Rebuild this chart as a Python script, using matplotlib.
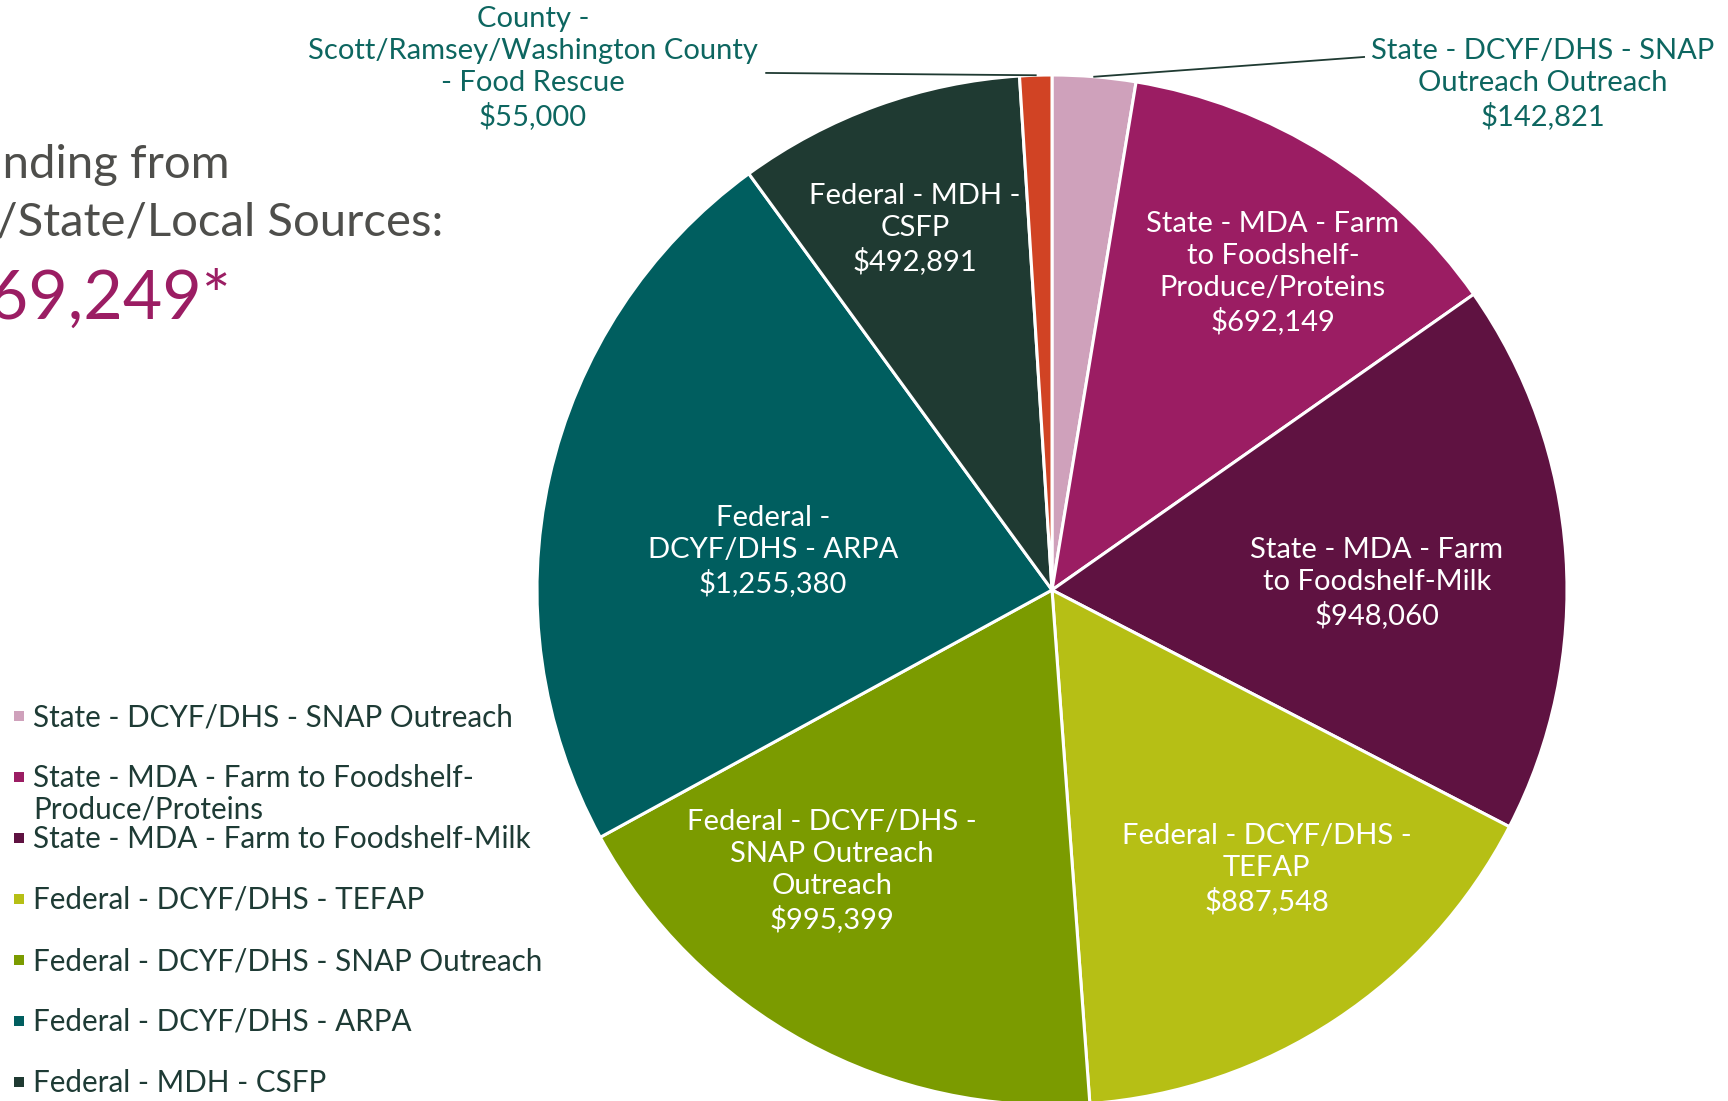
import matplotlib
matplotlib.use('Agg')
import matplotlib.pyplot as plt
import numpy as np

plt.rcParams['font.family'] = ['Lato', 'DejaVu Sans']

# dados
fontes = ['State - DCYF/DHS - SNAP Outreach',
          'State - MDA - Farm to Foodshelf-\nProduce/Proteins',
          'State - MDA - Farm to Foodshelf-Milk',
          'Federal - DCYF/DHS - TEFAP',
          'Federal - DCYF/DHS - SNAP Outreach',
          'Federal - DCYF/DHS - ARPA',
          'Federal - MDH - CSFP',
          'County - Scott/Ramsey/Washington County - Food Rescue']
valores = [142821, 692149, 948060, 887548, 995399, 1255380, 492891, 55000]
rotulos = ['State - DCYF/DHS - SNAP\nOutreach Outreach',
           'State - MDA - Farm\nto Foodshelf-\nProduce/Proteins',
           'State - MDA - Farm\nto Foodshelf-Milk',
           'Federal - DCYF/DHS -\nTEFAP',
           'Federal - DCYF/DHS -\nSNAP Outreach\nOutreach',
           'Federal -\nDCYF/DHS - ARPA',
           'Federal - MDH -\nCSFP',
           'County -\nScott/Ramsey/Washington County\n- Food Rescue']
cores = ['#CFA1BB', '#9B1D63', '#5F1241', '#B6BF15',
         '#7B9B00', '#005E5F', '#1F3A32', '#D14324']
total_texto = '$5,469,249*'

W, H = 1728, 1101
fig = plt.figure(figsize=(W / 100, H / 100), dpi=100)

# centro e raio da pizza em pixels
cx, cy, r = 1052, 590, 515
ax = fig.add_axes([(cx - r) / W, 1 - (cy + r) / H, 2 * r / W, 2 * r / H])
fatias, _ = ax.pie(valores, colors=cores, startangle=90, counterclock=False,
                   wedgeprops=dict(edgecolor='white', linewidth=2.2))
ax.set_xlim(-1, 1)
ax.set_ylim(-1, 1)
ax.set_aspect('equal')
ax.axis('off')

# rotulos dentro (posicoes em coords de dados)
pos_dentro = {1: (0.429, 0.615), 2: (0.631, 0.013), 3: (0.417, -0.542),
              4: (-0.427, -0.546), 5: (-0.542, 0.076), 6: (-0.266, 0.701)}
for i, (x, y) in pos_dentro.items():
    ax.text(x, y, rotulos[i] + '\n${:,}'.format(valores[i]), ha='center', va='center',
            color='white', fontsize=21, linespacing=1.28)

# rotulos fora com linha guia
pos_fora = {0: (0.953, 0.983, 0.606, 1.035), 7: (-1.008, 1.013, -0.555, 1.004)}
for i, (tx, ty, lx, ly) in pos_fora.items():
    w = fatias[i]
    meio = np.deg2rad((w.theta1 + w.theta2) / 2)
    ax.plot([np.cos(meio), lx], [np.sin(meio), ly], color='#1F3A32', lw=1.3,
            clip_on=False)
    ax.text(tx, ty, rotulos[i] + '\n${:,}'.format(valores[i]), ha='center', va='center',
            color='#0D6660', fontsize=21, linespacing=1.28)

# camada em pixels para titulo e legenda
ov = fig.add_axes([0, 0, 1, 1], zorder=-1)
ov.set_xlim(0, W)
ov.set_ylim(H, 0)
ov.axis('off')

ov.text(230, 165, 'Total Funding from', ha='right', va='center', fontsize=34, color='#4E4E4B')
ov.text(443, 223, 'Federal/State/Local Sources:', ha='right', va='center', fontsize=34,
        color='#4E4E4B')
ov.text(231, 298, total_texto, ha='right', va='center', fontsize=49, color='#9B1D63')

for i, nome in enumerate(fontes):
    y = 716 + 61 * i
    ov.scatter([19], [y], marker='s', s=60, color=cores[i], linewidths=0)
    for k, linha in enumerate(nome.split('\n')):
        ov.text(33, y + 10 + 31 * k, linha, ha='left', va='baseline', fontsize=21.3,
                color='#1E3B35')

fig.savefig('out.png', dpi=100)
